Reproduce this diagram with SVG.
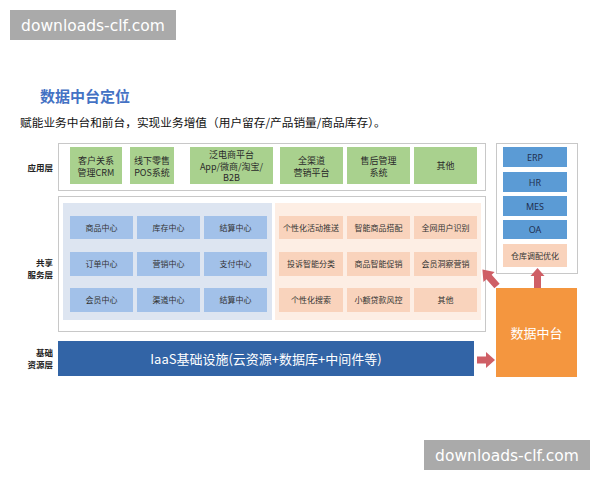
<svg xmlns="http://www.w3.org/2000/svg" width="600" height="480" viewBox="0 0 600 480">
<style>
text{font-family:"Noto Sans CJK SC","Noto Sans",sans-serif;}
.wm{fill:#aaaaaa;}
.wmt{fill:#ffffff;font-family:"DejaVu Sans","Noto Sans",sans-serif;font-size:15.5px;}
.outer{fill:#ffffff;stroke:#c8c8c8;stroke-width:1;}
.green{fill:#a9d18e;}
.gt{font-size:9px;fill:#2a2a2a;text-anchor:middle;}
.bpanel{fill:#dde5f1;}
.bbox{fill:#a2c1e9;}
.opanel{fill:#fdeee4;}
.obox{fill:#f9d3bc;}
.st{font-size:8px;fill:#333;text-anchor:middle;}
.rb{fill:#5b9bd5;}
.rbt{font-size:9px;fill:#1f2f50;text-anchor:middle;font-family:"Noto Sans","Noto Sans CJK SC",sans-serif;}
.lbl{font-size:8.5px;fill:#222;text-anchor:end;font-weight:bold;}
.arrow{fill:#cf5f66;}
</style>
<rect width="600" height="480" fill="#ffffff"/>
<g id="watermark-top"><rect class="wm" x="10" y="10" width="166" height="30"/><text class="wmt" x="93" y="31" text-anchor="middle">downloads-clf.com</text></g>
<g id="watermark-bottom"><rect class="wm" x="424" y="440" width="166" height="30"/><text class="wmt" x="507" y="461" text-anchor="middle">downloads-clf.com</text></g>
<text x="40" y="102" font-size="15" font-weight="bold" fill="#4472c4">数据中台定位</text>
<text x="20" y="127" font-size="11.7" fill="#111">赋能业务中台和前台，实现业务增值（用户留存/产品销量/商品库存）。</text>
<g id="labels">
<text class="lbl" x="53" y="171">应用层</text>
<text class="lbl" x="53" y="266">共享</text>
<text class="lbl" x="53" y="278">服务层</text>
<text class="lbl" x="53" y="356">基础</text>
<text class="lbl" x="53" y="368">资源层</text>
</g>
<g id="app-layer">
<rect class="outer" x="58.5" y="143.5" width="427" height="47"/>
<g id="crm"><rect class="green" x="70" y="147" width="52" height="37"/><text class="gt" x="96" y="164">客户关系</text><text class="gt" x="96" y="175.5">管理CRM</text></g>
<g id="pos"><rect class="green" x="130" y="147" width="44" height="37"/><text class="gt" x="152" y="164">线下零售</text><text class="gt" x="152" y="175.5">POS系统</text></g>
<g id="ecom"><rect class="green" x="190" y="147" width="83" height="37"/><text class="gt" x="231.5" y="158">泛电商平台</text><text class="gt" x="231.5" y="169.5">App/微商/淘宝/</text><text class="gt" x="231.5" y="181">B2B</text></g>
<g id="omni"><rect class="green" x="280" y="147" width="63" height="37"/><text class="gt" x="311.5" y="164">全渠道</text><text class="gt" x="311.5" y="175.5">营销平台</text></g>
<g id="aftersale"><rect class="green" x="347" y="147" width="63" height="37"/><text class="gt" x="378.5" y="164">售后管理</text><text class="gt" x="378.5" y="175.5">系统</text></g>
<g id="other-app"><rect class="green" x="414" y="147" width="63" height="37"/><text class="gt" x="445.5" y="169">其他</text></g>
</g>
<g id="shared-layer">
<rect class="outer" x="58.5" y="196.5" width="427" height="135"/>
<rect class="bpanel" x="63" y="203" width="209" height="117"/>
<rect class="opanel" x="275" y="203" width="206" height="117"/>
<g id="c1"><rect class="bbox" x="70" y="216" width="63" height="23"/><text class="st" x="101.5" y="230.5">商品中心</text></g>
<g id="c2"><rect class="bbox" x="137" y="216" width="63" height="23"/><text class="st" x="168.5" y="230.5">库存中心</text></g>
<g id="c3"><rect class="bbox" x="204" y="216" width="63" height="23"/><text class="st" x="235.5" y="230.5">结算中心</text></g>
<g id="c4"><rect class="bbox" x="70" y="252" width="63" height="24"/><text class="st" x="101.5" y="267">订单中心</text></g>
<g id="c5"><rect class="bbox" x="137" y="252" width="63" height="24"/><text class="st" x="168.5" y="267">营销中心</text></g>
<g id="c6"><rect class="bbox" x="204" y="252" width="63" height="24"/><text class="st" x="235.5" y="267">支付中心</text></g>
<g id="c7"><rect class="bbox" x="70" y="288" width="63" height="24"/><text class="st" x="101.5" y="303">会员中心</text></g>
<g id="c8"><rect class="bbox" x="137" y="288" width="63" height="24"/><text class="st" x="168.5" y="303">渠道中心</text></g>
<g id="c9"><rect class="bbox" x="204" y="288" width="63" height="24"/><text class="st" x="235.5" y="303">结算中心</text></g>
<g id="s1"><rect class="obox" x="279" y="216" width="64" height="23"/><text class="st" x="311" y="230.5">个性化活动推送</text></g>
<g id="s2"><rect class="obox" x="347" y="216" width="63" height="23"/><text class="st" x="378.5" y="230.5">智能商品搭配</text></g>
<g id="s3"><rect class="obox" x="414" y="216" width="63" height="23"/><text class="st" x="445.5" y="230.5">全网用户识别</text></g>
<g id="s4"><rect class="obox" x="279" y="252" width="64" height="24"/><text class="st" x="311" y="267">投诉智能分类</text></g>
<g id="s5"><rect class="obox" x="347" y="252" width="63" height="24"/><text class="st" x="378.5" y="267">商品智能促销</text></g>
<g id="s6"><rect class="obox" x="414" y="252" width="63" height="24"/><text class="st" x="445.5" y="267">会员洞察营销</text></g>
<g id="s7"><rect class="obox" x="279" y="288" width="64" height="24"/><text class="st" x="311" y="303">个性化搜索</text></g>
<g id="s8"><rect class="obox" x="347" y="288" width="63" height="24"/><text class="st" x="378.5" y="303">小额贷款风控</text></g>
<g id="s9"><rect class="obox" x="414" y="288" width="63" height="24"/><text class="st" x="445.5" y="303">其他</text></g>
</g>
<g id="iaas"><rect x="58" y="341" width="416" height="35" fill="#3264a6"/><text x="266" y="363.5" font-size="13" fill="#ffffff" text-anchor="middle">IaaS基础设施(云资源+数据库+中间件等)</text></g>
<g id="right-systems">
<rect class="outer" x="496.5" y="143.5" width="81" height="130"/>
<g id="erp"><rect class="rb" x="503" y="147" width="64" height="20"/><text class="rbt" x="535" y="160.5">ERP</text></g>
<g id="hr"><rect class="rb" x="503" y="172" width="64" height="20"/><text class="rbt" x="535" y="185.5">HR</text></g>
<g id="mes"><rect class="rb" x="503" y="196" width="64" height="20"/><text class="rbt" x="535" y="209.5">MES</text></g>
<g id="oa"><rect class="rb" x="503" y="220" width="64" height="19"/><text class="rbt" x="535" y="233">OA</text></g>
<g id="warehouse"><rect class="obox" x="503" y="244" width="64" height="23"/><text class="st" x="535" y="258.5">仓库调配优化</text></g>
</g>
<g id="data-platform"><rect x="496" y="288" width="81" height="89" fill="#f4963f"/><text x="536.5" y="338" font-size="13" fill="#ffffff" text-anchor="middle">数据中台</text></g>
<g id="connectors">
<polygon class="arrow" points="477,356.5 486,356.5 486,352 495,360 486,368 486,363.5 477,363.5"/>
<polygon class="arrow" points="534,288 534,276 530.5,276 537.5,268 544.5,276 541,276 541,288"/>
<polygon class="arrow" transform="translate(497,286) rotate(-131.6)" points="0,-3.5 12,-3.5 12,-7.5 22,0 12,7.5 12,3.5 0,3.5"/>
</g>
</svg>
